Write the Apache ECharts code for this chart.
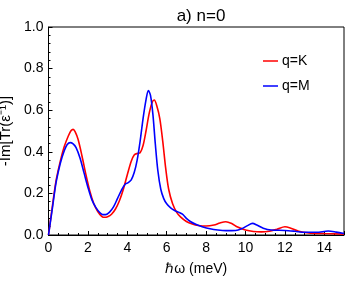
<!DOCTYPE html>
<html>
<head>
<meta charset="utf-8">
<script src="https://cdn.jsdelivr.net/npm/echarts@6/dist/echarts.min.js"></script>
<style>html,body{margin:0;padding:0;background:#fff}#c{width:346px;height:282px}</style>
</head>
<body>
<div id="c"></div>
<script>
var xTicks = [0, 2, 4, 6, 8, 10, 12, 14];
var yTicks = [0.0, 0.2, 0.4, 0.6, 0.8, 1.0];
var kOmega = [0, 0.1, 0.2, 0.3, 0.4, 0.6, 0.8, 1.0, 1.15, 1.25, 1.35, 1.5, 1.7, 1.9, 2.1, 2.3, 2.5, 2.7, 2.85, 3.0, 3.2, 3.4, 3.6, 3.8, 4.0, 4.2, 4.35, 4.5, 4.65, 4.8, 4.95, 5.1, 5.25, 5.37, 5.5, 5.65, 5.8, 5.95, 6.1, 6.3, 6.5, 6.7, 7.0, 7.3, 7.6, 8.0, 8.4, 8.7, 9.0, 9.3, 9.6, 10.0, 10.4, 10.8, 11.2, 11.6, 12.0, 12.3, 12.7, 13.2, 14.0, 15.0];
var kVals  = [0, 0.07, 0.14, 0.21, 0.27, 0.355, 0.425, 0.475, 0.502, 0.508, 0.497, 0.46, 0.38, 0.29, 0.21, 0.15, 0.113, 0.09, 0.085, 0.088, 0.1, 0.125, 0.165, 0.22, 0.29, 0.355, 0.385, 0.392, 0.395, 0.43, 0.5, 0.58, 0.635, 0.649, 0.62, 0.56, 0.45, 0.32, 0.22, 0.15, 0.11, 0.087, 0.065, 0.053, 0.046, 0.043, 0.048, 0.058, 0.064, 0.055, 0.038, 0.024, 0.017, 0.015, 0.018, 0.028, 0.04, 0.033, 0.018, 0.01, 0.007, 0.004];
var mOmega = [0, 0.1, 0.2, 0.3, 0.4, 0.6, 0.8, 0.95, 1.1, 1.25, 1.4, 1.6, 1.8, 2.0, 2.2, 2.4, 2.6, 2.75, 2.9, 3.1, 3.3, 3.5, 3.7, 3.9, 4.05, 4.2, 4.35, 4.5, 4.65, 4.8, 4.95, 5.07, 5.18, 5.3, 5.42, 5.55, 5.7, 5.85, 6.0, 6.2, 6.4, 6.6, 6.8, 7.0, 7.2, 7.5, 7.8, 8.2, 8.6, 9.0, 9.5, 9.8, 10.1, 10.35, 10.6, 10.9, 11.3, 12.0, 12.5, 13.0, 13.6, 14.2, 14.6, 15.0];
var mVals  = [0, 0.065, 0.13, 0.2, 0.26, 0.345, 0.405, 0.435, 0.444, 0.438, 0.42, 0.37, 0.3, 0.23, 0.17, 0.133, 0.108, 0.098, 0.098, 0.11, 0.135, 0.175, 0.215, 0.245, 0.252, 0.265, 0.3, 0.36, 0.45, 0.56, 0.65, 0.694, 0.67, 0.58, 0.44, 0.31, 0.22, 0.175, 0.15, 0.13, 0.118, 0.11, 0.1, 0.08, 0.065, 0.05, 0.04, 0.03, 0.024, 0.021, 0.022, 0.03, 0.045, 0.056, 0.047, 0.033, 0.024, 0.022, 0.018, 0.013, 0.013, 0.019, 0.014, 0.007];

function pairs(xs, ys) { return xs.map(function (x, i) { return [x, ys[i]]; }); }

var font = 'Liberation Sans, Arial, sans-serif';
var chart = echarts.init(document.getElementById('c'), null, {renderer: 'canvas'});
chart.setOption({
  animation: false,
  backgroundColor: '#fff',
  title: {
    text: 'a) n=0', left: 196, top: 3, textAlign: 'center',
    textStyle: {fontFamily: font, fontSize: 17, fontWeight: 'normal', color: '#000'}
  },
  legend: {
    orient: 'vertical', left: 258, top: 49, itemGap: 11,
    itemWidth: 15, itemHeight: 14,
    textStyle: {fontFamily: font, fontSize: 14, color: '#000', padding: [0, 0, 0, -1]},
    data: [{name: 'q=K', icon: 'path://M0,6.5H15V8H0Z'}, {name: 'q=M', icon: 'path://M0,6.5H15V8H0Z'}]
  },
  grid: {left: 48.5, right: 2, top: 27, bottom: 47, containLabel: false, outerBoundsMode: 'none',
    show: true, borderColor: '#000', borderWidth: 1, backgroundColor: 'transparent'},
  xAxis: {
    type: 'value', min: 0, max: 15, interval: 2,
    name: 'ℏω (meV)', nameLocation: 'middle', nameGap: 27,
    nameTextStyle: {fontFamily: font, fontSize: 14, color: '#000'},
    axisLine: {show: true, lineStyle: {color: '#000', width: 1}},
    axisTick: {show: true, inside: true, length: 4, lineStyle: {color: '#000'}},
    minorTick: {show: true, splitNumber: 4, length: 2, lineStyle: {color: '#000'}},
    splitLine: {show: false},
    axisLabel: {fontFamily: font, fontSize: 14, color: '#000', margin: 6,
      customValues: xTicks, formatter: function (v) { return String(v); }}
  },
  yAxis: {
    type: 'value', min: 0, max: 1, interval: 0.2,
    name: '-Im[Tr(ε⁻¹)]', nameLocation: 'middle', nameGap: 33, nameRotate: 90,
    nameTextStyle: {fontFamily: font, fontSize: 15, color: '#000'},
    axisLine: {show: true, lineStyle: {color: '#000', width: 1}},
    axisTick: {show: true, inside: true, length: 4, lineStyle: {color: '#000'}},
    minorTick: {show: true, splitNumber: 5, length: 2, lineStyle: {color: '#000'}},
    splitLine: {show: false},
    axisLabel: {fontFamily: font, fontSize: 14, color: '#000', margin: 5,
      formatter: function (v) { return v.toFixed(1); }}
  },
  series: [
    {name: 'q=K', type: 'line', data: pairs(kOmega, kVals), smooth: 0.3, symbol: 'none',
     lineStyle: {color: '#ff0000', width: 1.6}, itemStyle: {color: '#ff0000'}, z: 2},
    {name: 'q=M', type: 'line', data: pairs(mOmega, mVals), smooth: 0.3, symbol: 'none',
     lineStyle: {color: '#0000ff', width: 1.6}, itemStyle: {color: '#0000ff'}, z: 3}
  ]
});
</script>
</body>
</html>
